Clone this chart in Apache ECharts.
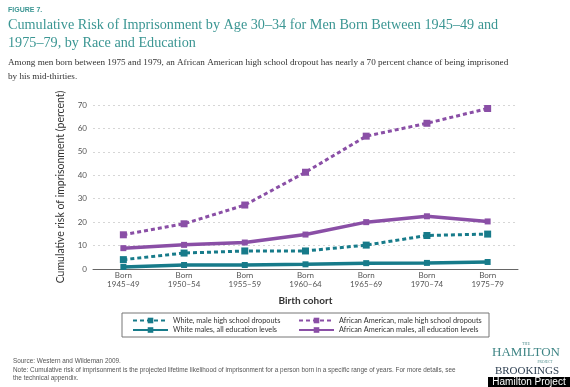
<!DOCTYPE html>
<html>
<head>
<meta charset="utf-8">
<script src="https://cdn.jsdelivr.net/npm/echarts@6/dist/echarts.min.js"></script>
<style>
html,body{margin:0;padding:0;background:#fff;}
#c{width:570px;height:387px;}
</style>
</head>
<body>
<div id="c"></div>
<script>
const categories = ['Born\n1945–49','Born\n1950–54','Born\n1955–59','Born\n1960–64','Born\n1965–69','Born\n1970–74','Born\n1975–79'];
const whiteDropouts = [4.0, 6.8, 7.7, 7.7, 10.2, 14.3, 14.9];
const whiteAll = [0.9, 1.7, 1.7, 2.0, 2.5, 2.6, 3.0];
const aaDropouts = [14.6, 19.3, 27.3, 41.3, 56.7, 62.2, 68.5];
const aaAll = [8.9, 10.3, 11.3, 14.7, 20.0, 22.5, 20.3];
const yTicks = [0, 10, 20, 30, 40, 50, 60, 70];

const TEAL = '#177b8a';
const PURPLE = '#8a4fa6';
const sans = 'Lato, "Open Sans", sans-serif';
const serif = '"Liberation Serif", "DejaVu Serif", serif';

const chart = echarts.init(document.getElementById('c'), null, {renderer:'canvas'});

function dashed(name, data, color, z){
  return {name, type:'line', data, z,
    symbol:'rect', symbolSize:7, showSymbol:true,
    lineStyle:{color, width:3, type:[4,3]}, itemStyle:{color}, color};
}
function solid(name, data, color, z){
  return {name, type:'line', data, z,
    symbol:'rect', symbolSize:6,
    lineStyle:{color, width:3.5, type:'solid'}, itemStyle:{color}, color};
}

chart.setOption({
  animation:false,
  title:[
    {text:'FIGURE 7.', left:8, top:5, padding:[2,0], textStyle:{fontFamily:'Arial, sans-serif', fontSize:7, fontWeight:'bold', color:'#3b9693'}},
    {text:'Cumulative Risk of Imprisonment by Age 30–34 for Men Born Between 1945–49 and\n1975–79, by Race and Education',
     left:8, top:14, padding:[2,0], textStyle:{fontFamily:serif, fontSize:14.2, fontWeight:'normal', color:'#3b9693', lineHeight:18.5}},
    {text:'Among men born between 1975 and 1979, an African American high school dropout has nearly a 70 percent chance of being imprisoned\nby his mid-thirties.',
     left:8, top:53, padding:[2,0], textStyle:{fontFamily:serif, fontSize:9.15, fontWeight:'normal', color:'#333', lineHeight:14.5}},
    {text:'Source: Western and Wildeman 2009.\nNote: Cumulative risk of imprisonment is the projected lifetime likelihood of imprisonment for a person born in a specific range of years. For more details, see\nthe technical appendix.',
     left:8, top:352, textStyle:{fontFamily:'Arial, sans-serif', fontSize:6.4, fontWeight:'normal', color:'#555', lineHeight:8.5}}
  ],
  grid:{left:93, right:52, top:105, bottom:118},
  xAxis:{type:'category', data:categories, boundaryGap:true,
    name:'Birth cohort', nameLocation:'middle', nameGap:27,
    nameTextStyle:{fontFamily:sans, fontSize:10, color:'#333', fontWeight:'bold'},
    axisLine:{lineStyle:{color:'#666', width:1}}, axisTick:{show:false},
    axisLabel:{fontFamily:sans, fontSize:8, color:'#555', lineHeight:9, margin:2, interval:0}},
  yAxis:{type:'value', min:0, max:70, interval:10,
    name:'Cumulative risk of imprisonment (percent)', nameLocation:'middle', nameGap:27, nameRotate:90,
    nameTextStyle:{fontFamily:sans, fontSize:10.5, color:'#333', fontWeight:'normal'},
    axisLine:{show:false}, axisTick:{show:false},
    axisLabel:{fontFamily:sans, fontSize:8, color:'#555', margin:6,
      formatter:(v)=> yTicks.includes(v) ? String(v) : ''},
    splitLine:{lineStyle:{color:'#ccc', type:[2,3], width:0.8}}},
  legend:[
    {orient:'vertical', left:132, top:317, padding:0, itemWidth:35, itemHeight:7, itemGap:2.5,
     data:['White, male high school dropouts','White males, all education levels'],
     textStyle:{fontFamily:sans, fontSize:7.3, color:'#333'}},
    {orient:'vertical', left:298, top:317, padding:0, itemWidth:35, itemHeight:7, itemGap:2.5,
     data:['African American, male high school dropouts','African American males, all education levels'],
     textStyle:{fontFamily:sans, fontSize:7.3, color:'#333'}}
  ],
  series:[
    solid('White males, all education levels', whiteAll, TEAL, 2),
    dashed('White, male high school dropouts', whiteDropouts, TEAL, 3),
    solid('African American males, all education levels', aaAll, PURPLE, 4),
    dashed('African American, male high school dropouts', aaDropouts, PURPLE, 5)
  ],
  graphic:[
    {type:'rect', shape:{x:122, y:313, width:367, height:24}, style:{fill:'none', stroke:'#777', lineWidth:1}, silent:true},
    {type:'text', style:{x:526, y:342, text:'THE', font:'4px '+serif, fill:'#4a8a8a', textAlign:'center'}},
    {type:'text', style:{x:526, y:346.5, text:'HAMILTON', font:'13px '+serif, fill:'#3f8585', textAlign:'center'}},
    {type:'text', style:{x:545, y:360, text:'PROJECT', font:'3.5px '+serif, fill:'#4a8a8a', textAlign:'center'}},
    {type:'text', style:{x:527, y:366, text:'BROOKINGS', font:'11px '+serif, fill:'#2d3e50', textAlign:'center'}},
    {type:'rect', shape:{x:488, y:377, width:82, height:10}, style:{fill:'#000'}},
    {type:'text', style:{x:529, y:377, text:'Hamilton Project', font:'10px Arial, sans-serif', fill:'#fff', textAlign:'center'}}
  ]
});
</script>
</body>
</html>
